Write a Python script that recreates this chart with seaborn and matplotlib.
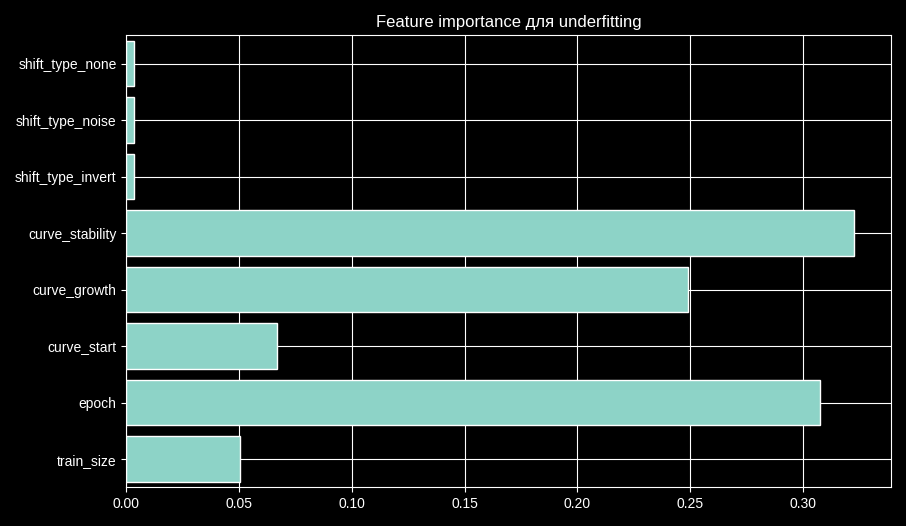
import pandas as pd
import seaborn as sns
import matplotlib.pyplot as plt

# Feature importances (bottom to top as in the chart)
features = ['train_size', 'epoch', 'curve_start', 'curve_growth', 'curve_stability',
            'shift_type_invert', 'shift_type_noise', 'shift_type_none']
importance = [0.0503, 0.3074, 0.0669, 0.2492, 0.3227, 0.0035, 0.0035, 0.0035]

plt.style.use('dark_background')
plt.rcParams['font.family'] = ['Liberation Sans', 'DejaVu Sans']

df = pd.DataFrame({'feature': features, 'importance': importance})
df = df.iloc[::-1]  # seaborn puts first category on top

fig, ax = plt.subplots(figsize=(9.06, 5.26), dpi=100)
sns.barplot(data=df, x='importance', y='feature', orient='h', color='#8dd3c7',
            saturation=1, edgecolor='white', linewidth=1, width=0.8, ax=ax)
ax.set_axisbelow(True)
ax.grid(True, color='white', linewidth=0.8)
ax.set_xlim(0, 0.339)
ax.set_xlabel('')
ax.set_ylabel('')
ax.set_title('Feature importance для underfitting')
for s in ax.spines.values():
    s.set_color('white')
plt.tight_layout()
plt.savefig('out.png')
